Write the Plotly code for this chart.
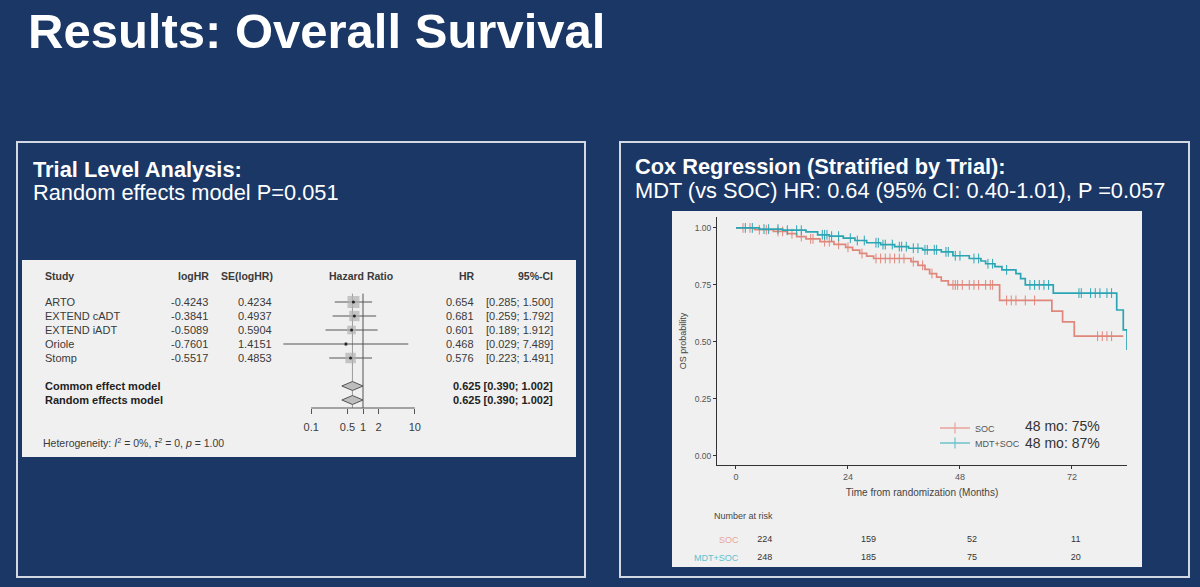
import numpy as np
import plotly.graph_objects as go

W, H = 1200, 587
def X(px): return px / W
def Y(py): return 1 - py / H

FONT = "Liberation Sans, Arial, sans-serif"
NAVY = "#1a3766"
TXT = "#3a3a3a"

# ---------------- Forest plot data ----------------
studies = ["ARTO", "EXTEND cADT", "EXTEND iADT", "Oriole", "Stomp"]
log_hr = [-0.4243, -0.3841, -0.5089, -0.7601, -0.5517]
se_log_hr = [0.4234, 0.4937, 0.5904, 1.4151, 0.4853]
hr = [0.654, 0.681, 0.601, 0.468, 0.576]
ci_lo = [0.285, 0.259, 0.189, 0.029, 0.223]
ci_hi = [1.500, 1.792, 1.912, 7.489, 1.491]
models = ["Common effect model", "Random effects model"]
model_hr = [0.625, 0.625]
model_lo = [0.390, 0.390]
model_hi = [1.002, 1.002]
forest_ticks = [0.1, 0.5, 1, 2, 10]
forest_ticktext = ["0.1", "0.5", "1", "2", "10"]

# ---------------- Kaplan-Meier data ----------------
soc_time = [0, 4, 8, 11, 13, 15, 18, 21, 23.5, 25, 26.5, 28, 29.5, 37.5, 39, 40.5,
            41.5, 43, 44, 45.5, 56.5, 67.7, 70, 72.5, 83.0]
soc_surv = [1.0, 0.992, 0.985, 0.975, 0.962, 0.952, 0.940, 0.928, 0.915, 0.903, 0.888,
            0.876, 0.866, 0.852, 0.836, 0.818, 0.800, 0.784, 0.768, 0.750, 0.682, 0.635,
            0.588, 0.525, 0.525]
soc_cens = [1.5, 3, 5, 6.5, 9, 10, 12, 14, 16, 16.5, 19, 20, 22, 24, 27, 30, 31, 32, 33,
            34, 35, 36, 38, 40, 42, 46.5, 47, 47.5, 48.5, 50, 51, 52, 53.5, 54.5, 55, 58,
            59, 60, 62, 64, 77.5, 78.5, 79.5, 80.5]

mdt_time = [0, 5, 10, 15, 17.5, 20, 23, 25.5, 28, 31, 34, 37, 40, 44, 46.5, 50, 52.5,
            53.5, 55.5, 57, 60, 61, 62, 68, 81.6, 83.0, 83.8]
mdt_surv = [1.0, 0.995, 0.990, 0.983, 0.970, 0.964, 0.955, 0.945, 0.935, 0.927, 0.918,
            0.911, 0.904, 0.895, 0.878, 0.866, 0.855, 0.843, 0.830, 0.816, 0.800, 0.778,
            0.750, 0.714, 0.640, 0.553, 0.465]
mdt_cens = [2, 3.5, 6, 7, 9, 11, 13, 14, 18.5, 19, 19.5, 20.5, 22, 24.5, 26, 27.5, 30,
            30.5, 31.5, 32, 33.5, 35, 35.5, 36.5, 38, 39, 40.5, 41, 42.5, 43, 45, 45.5,
            47, 48, 51, 52, 54, 55, 58, 63, 64, 65, 66, 67, 73.5, 74, 76, 77, 78, 79.5, 80.5]

risk_times = [0, 24, 48, 72]
risk_soc = [224, 159, 52, 11]
risk_mdt = [248, 185, 75, 20]

SOC_COL = "#E0867B"
MDT_COL = "#2BA5B4"

fig = go.Figure()

# ---------- forest plot traces (x2/y2) ----------
ROW0, ROWH = 302, 14   # pixel position of first study row, row height
def row_of(py): return (py - ROW0) / ROWH
axis_row = row_of(408)
rows = list(range(len(studies)))
model_rows = [6, 7]

fig.add_trace(go.Scatter(x=[model_hr[0], model_hr[0]], y=[-0.6, axis_row], mode="lines",
                         line=dict(color="#9a9a9a", width=1), xaxis="x2", yaxis="y2",
                         showlegend=False, hoverinfo="skip"))
fig.add_trace(go.Scatter(x=[1, 1], y=[-0.6, axis_row], mode="lines",
                         line=dict(color="#555555", width=1), xaxis="x2", yaxis="y2",
                         showlegend=False, hoverinfo="skip"))
fig.add_trace(go.Scatter(x=[forest_ticks[0], forest_ticks[-1]], y=[axis_row, axis_row],
                         mode="lines", line=dict(color="#555555", width=1),
                         xaxis="x2", yaxis="y2", showlegend=False, hoverinfo="skip"))
for i in rows:
    fig.add_trace(go.Scatter(x=[ci_lo[i], ci_hi[i]], y=[i, i], mode="lines",
                             line=dict(color="#555555", width=1), xaxis="x2", yaxis="y2",
                             showlegend=False, hoverinfo="skip"))
weights = 1 / np.array(se_log_hr) ** 2
sizes = 12 * np.sqrt(weights / weights.max())
fig.add_trace(go.Scatter(x=hr, y=rows, mode="markers",
                         marker=dict(symbol="square", size=sizes, color="#b0b0b0",
                                     line=dict(width=0)),
                         xaxis="x2", yaxis="y2", showlegend=False, hoverinfo="skip"))
fig.add_trace(go.Scatter(x=hr, y=rows, mode="markers",
                         marker=dict(symbol="circle", size=3, color="#222222"),
                         xaxis="x2", yaxis="y2", showlegend=False, hoverinfo="skip"))
for k, r in enumerate(model_rows):
    fig.add_trace(go.Scatter(x=[model_lo[k], model_hr[k], model_hi[k], model_hr[k], model_lo[k]],
                             y=[r, r - 0.32, r, r + 0.32, r], mode="lines", fill="toself",
                             fillcolor="#bdbdbd", line=dict(color="#555555", width=1),
                             xaxis="x2", yaxis="y2", showlegend=False, hoverinfo="skip"))

# ---------- KM traces (x/y) ----------
def step_at(times, surv, t):
    idx = np.searchsorted(np.array(times), t, side="right") - 1
    return np.array(surv)[idx]

for tt, ss, cc, col in [(soc_time, soc_surv, soc_cens, SOC_COL),
                        (mdt_time, mdt_surv, mdt_cens, MDT_COL)]:
    fig.add_trace(go.Scatter(x=tt, y=ss, mode="lines", line=dict(color=col, width=1.7, shape="hv"),
                             showlegend=False, hoverinfo="skip"))
    fig.add_trace(go.Scatter(x=cc, y=step_at(tt, ss, cc), mode="markers",
                             marker=dict(symbol="line-ns-open", size=7, color=col,
                                         line=dict(color=col, width=1)),
                             showlegend=False, hoverinfo="skip"))

# legend entries (one legend each so they can be placed like the original)
for name, col, lg in [("SOC", "#E9A39A", "legend"), ("MDT+SOC", "#6CC3CD", "legend2")]:
    fig.add_trace(go.Scatter(x=[None], y=[None], mode="lines+markers", name=name, legend=lg,
                             line=dict(color=col, width=1.4),
                             marker=dict(symbol="line-ns-open", size=8, color=col,
                                         line=dict(color=col, width=1.2))))

# ---------- risk table (x3/y3) ----------
fig.add_trace(go.Scatter(x=risk_times, y=[1] * len(risk_times), mode="text",
                         text=[str(v) for v in risk_soc], textfont=dict(size=9, color="#333333", family=FONT),
                         xaxis="x3", yaxis="y3", showlegend=False, hoverinfo="skip"))
fig.add_trace(go.Scatter(x=risk_times, y=[0] * len(risk_times), mode="text",
                         text=[str(v) for v in risk_mdt], textfont=dict(size=9, color="#333333", family=FONT),
                         xaxis="x3", yaxis="y3", showlegend=False, hoverinfo="skip"))

# ---------- shapes ----------
shapes = [
    dict(type="rect", xref="paper", yref="paper", x0=X(17), x1=X(585), y0=Y(577), y1=Y(142),
         line=dict(color="#d3d9e2", width=2), fillcolor="rgba(0,0,0,0)", layer="below"),
    dict(type="rect", xref="paper", yref="paper", x0=X(620), x1=X(1189), y0=Y(577), y1=Y(142),
         line=dict(color="#d3d9e2", width=2), fillcolor="rgba(0,0,0,0)", layer="below"),
    dict(type="rect", xref="paper", yref="paper", x0=X(22), x1=X(576), y0=Y(457), y1=Y(260),
         line=dict(width=0), fillcolor="#f0f0f0", layer="below"),
    dict(type="rect", xref="paper", yref="paper", x0=X(672), x1=X(1142), y0=Y(567), y1=Y(211),
         line=dict(width=0), fillcolor="#f0f0f0", layer="below"),
]

# ---------- annotations ----------
ann = []
def A(text, x, y, size, color="white", xanchor="left", yref="paper", bold=False, **kw):
    t = f"<b>{text}</b>" if bold else text
    ann.append(dict(text=t, x=x, y=y, xref="paper", yref=yref, xanchor=xanchor, yanchor="middle",
                    showarrow=False, font=dict(size=size, color=color, family=FONT), **kw))

A("Results: Overall Survival", X(26), Y(31), 49, bold=True)
A("Trial Level Analysis:", X(31), Y(169), 21.8, bold=True)
A("Random effects model P=0.051", X(31), Y(193), 21.8)
A("Cox Regression (Stratified by Trial):", X(633), Y(166), 21.8, bold=True)
A("MDT (vs SOC) HR: 0.64 (95% CI: 0.40-1.01), P =0.057", X(633), Y(191), 21.8)

# forest text
hdr = row_of(276)
A("Study", X(43), hdr, 10.5, TXT, "left", "y2", True)
A("logHR", X(211), hdr, 10.5, TXT, "right", "y2", True)
A("SE(logHR)", X(275), hdr, 10.5, TXT, "right", "y2", True)
A("Hazard Ratio", X(361), hdr, 10.5, TXT, "center", "y2", True)
A("HR", X(477), hdr, 10.5, TXT, "right", "y2", True)
A("95%-CI", X(555), hdr, 10.5, TXT, "right", "y2", True)
for i in rows:
    A(studies[i], X(43), i, 11, TXT, "left", "y2")
    A(f"{log_hr[i]:.4f}", X(210), i, 11, TXT, "right", "y2")
    A(f"{se_log_hr[i]:.4f}", X(274), i, 11, TXT, "right", "y2")
    A(f"{hr[i]:.3f}", X(476), i, 11, TXT, "right", "y2")
    A(f"[{ci_lo[i]:.3f}; {ci_hi[i]:.3f}]", X(555), i, 11, TXT, "right", "y2")
for k, r in enumerate(model_rows):
    A(models[k], X(43), r, 11, "#222222", "left", "y2", True)
    A(f"{model_hr[k]:.3f} [{model_lo[k]:.3f}; {model_hi[k]:.3f}]", X(555), r, 11, "#222222", "right", "y2", True)
A("Heterogeneity: <i>I</i><sup>2</sup> = 0%, <i>τ</i><sup>2</sup> = 0, <i>p</i> = 1.00",
  X(41), row_of(442), 10.5, TXT, "left", "y2")

# KM extra text
A("48 mo: 75%", X(1023), Y(426), 14, "#333333")
A("48 mo: 87%", X(1023), Y(443), 14, "#333333")
A("Number at risk", X(712), Y(516), 9, "#444444")
A("SOC", X(741), 1, 9, "#E8A69D", "right", "y3")
A("MDT+SOC", X(741), 0, 9, "#5EC2CD", "right", "y3")

legend_common = dict(xanchor="left", yanchor="middle", bgcolor="rgba(0,0,0,0)",
                     font=dict(size=9, color="#555555", family=FONT), itemwidth=30,
                     tracegroupgap=0)

fig.update_layout(
    width=W, height=H, margin=dict(l=0, r=0, t=0, b=0),
    paper_bgcolor=NAVY, plot_bgcolor="rgba(0,0,0,0)",
    font=dict(family=FONT),
    shapes=shapes, annotations=ann,
    showlegend=True,
    legend=dict(x=X(935), y=Y(428), **legend_common),
    legend2=dict(x=X(935), y=Y(443), **legend_common),
    xaxis=dict(domain=[X(717), X(1127)], range=[-4.07, 83.8], anchor="y",
               tickvals=[0, 24, 48, 72], showline=True, linecolor="#333333", linewidth=1,
               ticks="outside", ticklen=3, tickcolor="#333333", showgrid=False, zeroline=False,
               tickfont=dict(size=9, color="#555555"),
               title=dict(text="Time from randomization (Months)", font=dict(size=10, color="#444444"),
                          standoff=8)),
    yaxis=dict(domain=[Y(465), Y(217)], range=[-0.04, 1.048], anchor="x",
               tickvals=[0, 0.25, 0.5, 0.75, 1.0], ticktext=["0.00", "0.25", "0.50", "0.75", "1.00"],
               showline=True, linecolor="#333333", linewidth=1, ticks="outside", ticklen=3,
               tickcolor="#333333", showgrid=False, zeroline=False,
               tickfont=dict(size=8.5, color="#555555"),
               title=dict(text="OS probability", font=dict(size=9, color="#444444"), standoff=6)),
    xaxis2=dict(type="log", domain=[X(270), X(430)], range=[-1.795, 1.293], anchor="free",
                position=Y(408), tickvals=forest_ticks, ticktext=forest_ticktext,
                ticks="outside", ticklen=5, tickcolor="#555555", showline=False, showgrid=False,
                zeroline=False, tickfont=dict(size=11, color=TXT), ticklabelstandoff=4),
    yaxis2=dict(domain=[Y(457), Y(260)], range=[row_of(457), row_of(260)], anchor="x2",
                visible=False),
    xaxis3=dict(domain=[X(747.3), X(1126.7)], range=[-4.07, 83.8], anchor="y3", visible=False),
    yaxis3=dict(domain=[Y(567), Y(531)], range=[-0.5, 1.5], anchor="x3", visible=False),
)

fig.write_html("out.html")
